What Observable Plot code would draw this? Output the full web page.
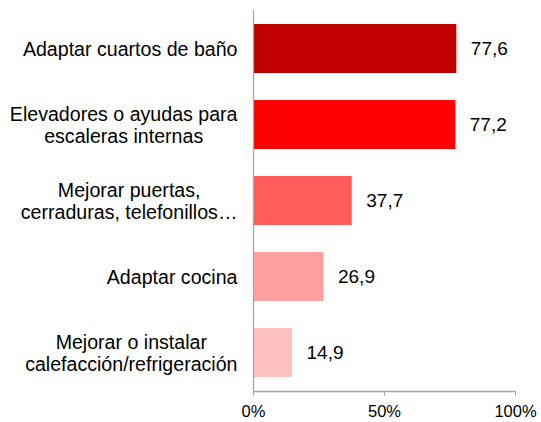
<!DOCTYPE html>
<html><head><meta charset="utf-8">
<script src="https://cdn.jsdelivr.net/npm/d3@7"></script>
<script src="https://cdn.jsdelivr.net/npm/@observablehq/plot@0.6"></script>
<style>body{margin:0;background:#fff}</style>
</head><body><div id="chart"></div>
<script>
const categories = [
  "Adaptar cuartos de baño",
  "Elevadores o ayudas para\nescaleras internas",
  "Mejorar puertas,\ncerraduras, telefonillos…",
  "Adaptar cocina",
  "Mejorar o instalar\ncalefacción/refrigeración"
];
const values = [77.6, 77.2, 37.7, 26.9, 14.9];
const colors = ["#C00000", "#FF0000", "#FF5B5B", "#FF9F9F", "#FFC0C0"];
const xTicks = [0, 50, 100];

const data = categories.map((c, i) => ({category: c, value: values[i], color: colors[i]}));
const font = "'Liberation Sans', Arial, sans-serif";
const labelSize = 19.6;
const ctx = document.createElement("canvas").getContext("2d");
ctx.font = `${labelSize}px ${font}`;
const maxLineWidth = s => Math.max(...s.split("\n").map(l => ctx.measureText(l).width));
const fmt = v => v.toFixed(1).replace(".", ",");

const labelMarks = data.map(d => Plot.text([d], {
  x: () => 0, y: "category", text: "category",
  textAnchor: "middle", lineAnchor: "middle", lineHeight: 1.14,
  dx: -(16 + maxLineWidth(d.category) / 2),
  fontSize: labelSize, fill: "#000"
}));

const chart = Plot.plot({
  width: 541,
  height: 422,
  marginTop: 10,
  marginBottom: 31,
  marginLeft: 253,
  marginRight: 26,
  style: {fontFamily: font, background: "#fff", overflow: "visible"},
  x: {domain: [0, 100], ticks: xTicks, tickFormat: d => d + "%", label: null},
  y: {domain: categories, axis: null, paddingInner: 0.35, paddingOuter: 0.175},
  color: {type: "identity"},
  marks: [
    Plot.barX(data, {x: "value", y: "category", fill: "color"}),
    Plot.text(data, {x: "value", y: "category", text: d => fmt(d.value), textAnchor: "start", dx: 14, fontSize: 19, fill: "#000"}),
    ...labelMarks,
    Plot.ruleX([0], {stroke: "#a6a6a6", strokeWidth: 1.3}),
    Plot.frame({anchor: "bottom", stroke: "#a6a6a6", strokeWidth: 1.3}),
    Plot.axisX({ticks: xTicks, tickFormat: d => d + "%", tickSize: 5, tickPadding: 9, stroke: "#a6a6a6", fontSize: 16.5, fill: "#000", label: null})
  ]
});
document.getElementById("chart").appendChild(chart);
</script>
</body></html>
